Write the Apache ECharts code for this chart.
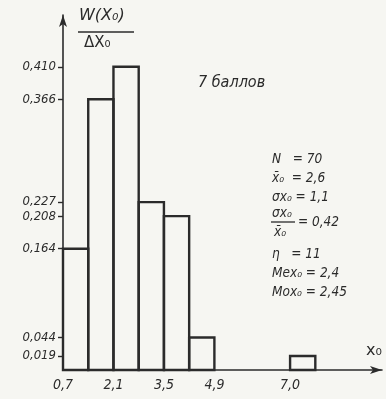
<!DOCTYPE html>
<html>
<head>
<meta charset="utf-8">
<script src="https://cdn.jsdelivr.net/npm/echarts@6/dist/echarts.min.js"></script>
<style>
  html, body { margin: 0; background: #f6f6f2; }
  #chart { width: 386px; height: 399px; }
</style>
</head>
<body>
<div id="chart"></div>
<script>
// histogram of x0, 7 points
const binStart = [0.7, 1.4, 2.1, 2.8, 3.5, 4.2, 7.0];
const binWidth = 0.7;
const density = [0.164, 0.366, 0.410, 0.227, 0.208, 0.044, 0.019];
const yTicks = [0.019, 0.044, 0.164, 0.208, 0.227, 0.366, 0.410];
const xTicks = [0.7, 2.1, 3.5, 4.9, 7.0];
const statLines = ['N   = 70', 'x̄₀  = 2,6', 'σx₀ = 1,1', '', 'η   = 11', 'Mex₀ = 2,4', 'Mox₀ = 2,45'];

const ink = '#2b2b2b';
const hand = 'italic 13.5px "DejaVu Sans Condensed", "DejaVu Sans", sans-serif';

const myChart = echarts.init(document.getElementById('chart'));

myChart.setOption({
  backgroundColor: '#f6f6f2',
  animation: false,
  grid: { left: 63, right: 4, top: 15, bottom: 29 },
  xAxis: {
    type: 'value',
    min: 0.7,
    max: 9.55,
    splitLine: { show: false },
    axisLine: { lineStyle: { color: ink, width: 1.6 }, symbol: ['none', 'arrow'], symbolSize: [6, 12] },
    axisTick: { show: false },
    axisLabel: {
      customValues: xTicks,
      color: ink,
      fontStyle: 'italic',
      fontSize: 14,
      fontFamily: 'DejaVu Sans Condensed',
      margin: 8,
      formatter: v => v.toFixed(1).replace('.', ',')
    }
  },
  yAxis: {
    type: 'value',
    min: 0,
    max: 0.48,
    splitLine: { show: false },
    axisLine: { lineStyle: { color: ink, width: 1.6 }, symbol: ['none', 'arrow'], symbolSize: [6, 12] },
    axisTick: { customValues: yTicks, length: 5, lineStyle: { color: ink, width: 1.4 } },
    axisLabel: {
      customValues: yTicks,
      color: ink,
      fontStyle: 'italic',
      fontSize: 13,
      fontFamily: 'DejaVu Sans Condensed',
      margin: 7,
      formatter: v => v.toFixed(3).replace('.', ',')
    }
  },
  series: [{
    type: 'custom',
    data: binStart.map((s, i) => [s, density[i]]),
    renderItem: (params, api) => {
      const x0 = api.value(0);
      const h = api.value(1);
      const p0 = api.coord([x0, h]);
      const p1 = api.coord([x0 + binWidth, 0]);
      return {
        type: 'rect',
        shape: { x: p0[0], y: p0[1], width: p1[0] - p0[0], height: p1[1] - p0[1] },
        style: { fill: 'none', stroke: ink, lineWidth: 2.4 }
      };
    }
  }],
  graphic: [
    { type: 'text', left: 79, top: 8, style: { text: 'W(X₀)', font: 'italic 16px "DejaVu Sans"', fill: ink } },
    { type: 'line', shape: { x1: 78, y1: 32, x2: 134, y2: 32 }, style: { stroke: ink, lineWidth: 1.6 } },
    { type: 'text', left: 84, top: 36, style: { text: 'ΔX₀', font: '15px "DejaVu Sans"', fill: ink } },
    { type: 'text', left: 198, top: 75, style: { text: '7 баллов', font: 'italic 16px "DejaVu Sans Condensed"', fill: ink } },
    { type: 'text', left: 366, top: 343, style: { text: 'x₀', font: '16px "DejaVu Sans"', fill: ink } },
    ...statLines.map((t, i) => ({
      type: 'text', left: 272, top: [152, 171, 190, 0, 247, 266, 285][i],
      style: { text: t, font: hand, fill: ink }
    })).filter((g, i) => statLines[i] !== ''),
    { type: 'text', left: 272, top: 206, style: { text: 'σx₀', font: hand, fill: ink } },
    { type: 'line', shape: { x1: 271, y1: 222, x2: 295, y2: 222 }, style: { stroke: ink, lineWidth: 1.3 } },
    { type: 'text', left: 274, top: 225, style: { text: 'x̄₀', font: hand, fill: ink } },
    { type: 'text', left: 298, top: 215, style: { text: '= 0,42', font: hand, fill: ink } }
  ]
});
</script>
</body>
</html>
